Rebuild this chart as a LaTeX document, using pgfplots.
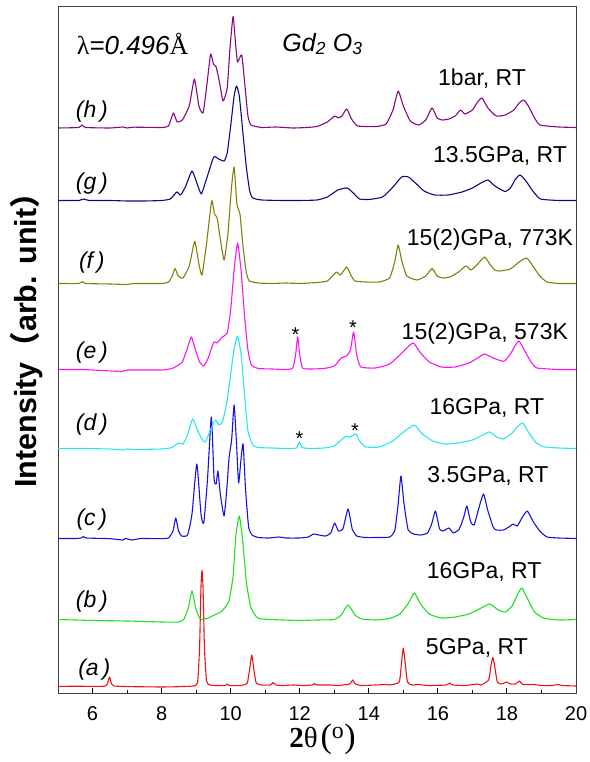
\documentclass[border=0pt]{standalone}
\usepackage{pgfplots}
\usepackage{pgfplotstable}
\pgfplotsset{compat=1.18}
\usepackage{fontspec}
\setmainfont{Liberation Sans}
\newfontfamily\serifb{Liberation Serif}
\newfontfamily\cjk{Noto Sans CJK SC}
\definecolor{cA}{RGB}{235,20,20}
\definecolor{cB}{RGB}{30,225,30}
\definecolor{cC}{RGB}{20,20,220}
\definecolor{cD}{RGB}{40,230,240}
\definecolor{cE}{RGB}{250,20,240}
\definecolor{cF}{RGB}{128,128,10}
\definecolor{cG}{RGB}{10,10,130}
\definecolor{cH}{RGB}{130,10,130}

\pgfplotstableread[row sep=\\]{x y\\
5.0 0.5\\ 5.5 0.8\\ 6.0 0.6\\ 6.35 0.8\\ 6.43 3\\ 6.49 10\\ 6.55 3\\ 6.62 1\\ 7.0 0.4\\ 7.5 0.2\\ 8.0 0\\ 8.5 0.3\\ 8.9 1\\ 9.04 4\\ 9.10 40\\ 9.14 100\\ 9.17 116.5\\ 9.20 100\\ 9.24 40\\ 9.30 6\\ 9.4 2\\ 9.6 1.5\\ 9.85 1.5\\ 9.9 3\\ 9.95 1.5\\ 10.3 1.5\\ 10.48 4\\ 10.55 18\\ 10.61 32\\ 10.67 18\\ 10.74 4\\ 10.9 2\\ 11.15 2\\ 11.23 4.5\\ 11.31 2\\ 11.5 1.5\\ 11.82 2\\ 12.1 1.5\\ 12.36 2\\ 12.43 3.5\\ 12.5 2\\ 12.9 2\\ 13.1 1.5\\ 13.45 3\\ 13.53 7\\ 13.61 3\\ 13.8 1.5\\ 14.2 2\\ 14.5 2.5\\ 14.6 2\\ 14.88 5\\ 14.95 25\\ 15.0 39\\ 15.05 25\\ 15.12 5\\ 15.25 2\\ 15.44 2.5\\ 15.7 1.5\\ 16.25 2\\ 16.34 4\\ 16.43 2\\ 16.8 1.5\\ 17.15 3\\ 17.25 2\\ 17.47 7\\ 17.54 22\\ 17.59 29.5\\ 17.64 22\\ 17.72 5\\ 17.85 3\\ 17.99 5\\ 18.1 3\\ 18.25 3\\ 18.36 6\\ 18.46 2.5\\ 18.77 2.5\\ 19.0 1.5\\ 19.3 1.5\\ 19.48 2.5\\ 19.6 1.5\\ 20 1\\
}\tA

\pgfplotstableread[row sep=\\]{x y\\
5.0 1.5\\ 6.0 0.5\\ 7.0 0\\ 8.0 -1\\ 8.5 -1\\ 8.65 2\\ 8.78 14\\ 8.88 30\\ 8.98 14\\ 9.08 4\\ 9.17 1.5\\ 9.35 3\\ 9.56 6.5\\ 9.75 10\\ 9.95 20\\ 10.07 45\\ 10.15 85\\ 10.25 105\\ 10.35 80\\ 10.45 40\\ 10.58 14\\ 10.75 4\\ 10.9 2\\ 11.5 1\\ 12.0 0.5\\ 12.5 1\\ 13.0 1.5\\ 13.2 6\\ 13.4 16\\ 13.6 6\\ 13.8 2\\ 14.2 1\\ 14.6 2.5\\ 14.9 7\\ 15.15 18\\ 15.32 28\\ 15.5 17\\ 15.75 7\\ 16.1 3\\ 16.5 4\\ 16.9 7\\ 17.2 12\\ 17.5 17\\ 17.75 11\\ 17.95 9\\ 18.15 15\\ 18.3 26\\ 18.43 33\\ 18.6 22\\ 18.8 9\\ 19.06 3\\ 19.5 1\\ 20 1.5\\
}\tB

\pgfplotstableread[row sep=\\]{x y\\
5.0 0.5\\ 5.5 0.5\\ 5.66 1\\ 5.74 2.5\\ 5.82 1\\ 6.5 0.3\\ 6.88 -1\\ 6.95 0.5\\ 7.15 -1\\ 7.4 0.5\\ 8.0 0.3\\ 8.2 1\\ 8.33 8\\ 8.41 21\\ 8.49 8\\ 8.58 3\\ 8.75 4\\ 8.88 25\\ 9.02 75\\ 9.14 25\\ 9.22 16\\ 9.33 60\\ 9.44 122\\ 9.52 60\\ 9.58 55\\ 9.63 68\\ 9.70 45\\ 9.81 23\\ 9.90 55\\ 9.95 80\\ 10.03 100\\ 10.1 134\\ 10.17 95\\ 10.23 56\\ 10.30 80\\ 10.36 95\\ 10.43 50\\ 10.52 12\\ 10.62 4\\ 10.8 1.5\\ 11.1 1\\ 11.4 2\\ 11.6 1\\ 12.0 1\\ 12.25 2\\ 12.4 5\\ 12.55 4\\ 12.75 3\\ 12.9 6\\ 13.01 16\\ 13.12 8\\ 13.25 10\\ 13.4 30\\ 13.52 10\\ 13.65 3\\ 13.9 1.5\\ 14.3 1.5\\ 14.6 2\\ 14.75 8\\ 14.85 35\\ 14.93 63\\ 15.02 35\\ 15.14 9\\ 15.3 5\\ 15.5 4\\ 15.7 6\\ 15.82 15\\ 15.93 28\\ 16.05 10\\ 16.15 8\\ 16.32 11\\ 16.45 6\\ 16.62 10\\ 16.75 22\\ 16.84 33\\ 16.95 17\\ 17.05 14\\ 17.18 30\\ 17.32 45\\ 17.45 28\\ 17.6 12\\ 17.69 9\\ 17.9 9\\ 18.1 13\\ 18.18 15\\ 18.3 13\\ 18.45 22\\ 18.59 28\\ 18.75 18\\ 18.95 8\\ 19.16 2\\ 19.5 1\\ 20 0.5\\
}\tC

\pgfplotstableread[row sep=\\]{x y\\
5.0 0.5\\ 5.7 0.5\\ 6.5 0\\ 6.88 -1\\ 7.0 0\\ 7.2 -0.5\\ 8.0 0\\ 8.3 1.5\\ 8.49 6\\ 8.62 5\\ 8.75 14\\ 8.9 30\\ 9.05 18\\ 9.18 9\\ 9.27 7\\ 9.40 18\\ 9.56 29\\ 9.66 24\\ 9.76 27\\ 9.88 45\\ 10.0 75\\ 10.1 100\\ 10.2 113\\ 10.3 95\\ 10.4 55\\ 10.5 18\\ 10.64 4\\ 10.8 1.5\\ 11.2 1\\ 11.6 0.5\\ 11.9 1\\ 11.99 7\\ 12.07 1.5\\ 12.3 0.5\\ 12.7 1\\ 13.0 3\\ 13.2 9\\ 13.33 12.5\\ 13.45 12\\ 13.63 15\\ 13.75 7\\ 13.92 2\\ 14.3 2\\ 14.7 8\\ 15.0 17\\ 15.32 24\\ 15.55 15\\ 15.85 8\\ 16.2 5\\ 16.6 6\\ 17.0 9\\ 17.3 14\\ 17.5 17\\ 17.7 12\\ 17.9 10\\ 18.15 16\\ 18.3 22\\ 18.46 26\\ 18.62 17\\ 18.85 6\\ 19.1 2\\ 19.5 1\\ 20 0.5\\
}\tD

\pgfplotstableread[row sep=\\]{x y\\
5.0 0.5\\ 5.7 0.5\\ 6.0 0\\ 6.85 -1.5\\ 7.0 0\\ 8.0 0\\ 8.3 1.5\\ 8.44 4\\ 8.6 8\\ 8.75 22\\ 8.86 33\\ 8.98 20\\ 9.1 8\\ 9.22 4\\ 9.35 12\\ 9.51 28\\ 9.6 27\\ 9.76 33\\ 9.9 37\\ 10.0 60\\ 10.1 100\\ 10.2 127\\ 10.3 100\\ 10.4 55\\ 10.5 20\\ 10.6 5\\ 10.8 1.5\\ 11.2 1\\ 11.6 0.5\\ 11.8 2\\ 11.88 15\\ 11.94 33\\ 12.0 15\\ 12.08 2\\ 12.3 1\\ 12.7 1.5\\ 13.0 4\\ 13.2 12\\ 13.35 14\\ 13.47 20\\ 13.56 38\\ 13.65 15\\ 13.77 3\\ 14.2 2\\ 14.6 6\\ 14.9 15\\ 15.1 22\\ 15.29 27\\ 15.5 17\\ 15.75 8\\ 16.1 3\\ 16.5 3\\ 16.9 7\\ 17.2 13\\ 17.35 16\\ 17.6 12\\ 17.85 9\\ 17.94 9\\ 18.1 16\\ 18.25 25\\ 18.35 29\\ 18.5 20\\ 18.7 8\\ 18.87 2\\ 19.5 0.5\\ 20 0.5\\
}\tE

\pgfplotstableread[row sep=\\]{x y\\
5.0 0.5\\ 5.6 0.5\\ 5.7 2.5\\ 5.8 0.5\\ 6.5 0\\ 7.0 -0.5\\ 7.2 0.5\\ 8.0 0.5\\ 8.2 2\\ 8.31 8\\ 8.39 15.5\\ 8.48 8\\ 8.62 6\\ 8.8 18\\ 8.96 42.6\\ 9.08 20\\ 9.17 9\\ 9.3 40\\ 9.45 83\\ 9.53 70\\ 9.61 66\\ 9.7 45\\ 9.81 24\\ 9.92 50\\ 10.02 95\\ 10.1 117\\ 10.18 80\\ 10.27 70\\ 10.35 40\\ 10.45 12\\ 10.54 3\\ 10.8 1\\ 11.2 0.5\\ 11.6 1\\ 12.0 0.5\\ 12.5 1.5\\ 12.8 3\\ 13.0 10\\ 13.07 12\\ 13.18 9\\ 13.36 17\\ 13.48 9\\ 13.6 3\\ 13.9 2\\ 14.3 2\\ 14.6 6\\ 14.75 22\\ 14.85 39\\ 14.95 24\\ 15.1 8\\ 15.4 4\\ 15.65 8\\ 15.83 15.5\\ 15.98 8\\ 16.13 6\\ 16.35 7\\ 16.6 12\\ 16.81 18\\ 16.95 14\\ 17.1 18\\ 17.35 27\\ 17.5 20\\ 17.65 14\\ 17.79 13\\ 18.1 15\\ 18.35 22\\ 18.57 26\\ 18.75 18\\ 18.95 8\\ 19.16 2\\ 19.5 0.5\\ 20 0.5\\
}\tF

\pgfplotstableread[row sep=\\]{x y\\
5.0 0.5\\ 5.6 0.5\\ 5.74 2\\ 5.9 0.5\\ 6.5 0.5\\ 7.0 0\\ 7.5 0\\ 8.0 0.5\\ 8.25 2\\ 8.44 9\\ 8.55 6\\ 8.7 15\\ 8.88 30\\ 9.02 18\\ 9.15 7\\ 9.3 22\\ 9.51 44\\ 9.65 42\\ 9.81 40\\ 9.9 48\\ 10.0 75\\ 10.1 105\\ 10.17 115\\ 10.25 105\\ 10.35 70\\ 10.45 35\\ 10.55 10\\ 10.64 3\\ 10.9 1\\ 11.5 0.5\\ 12.0 0.5\\ 12.5 1\\ 12.8 4\\ 13.1 11\\ 13.2 12\\ 13.38 13\\ 13.55 8\\ 13.73 2\\ 14.0 1.5\\ 14.4 4\\ 14.7 14\\ 14.95 24\\ 15.15 24\\ 15.35 18\\ 15.6 10\\ 15.9 6\\ 16.3 6\\ 16.7 9\\ 17.0 13\\ 17.25 18\\ 17.45 21\\ 17.65 15\\ 17.94 9.5\\ 18.1 13\\ 18.25 22\\ 18.38 26\\ 18.55 20\\ 18.75 10\\ 18.97 2\\ 19.5 0.5\\ 20 0.5\\
}\tG

\pgfplotstableread[row sep=\\]{x y\\
5.0 0\\ 5.6 0.5\\ 5.69 3\\ 5.8 0.5\\ 6.5 0\\ 6.88 1\\ 7.0 0\\ 7.2 0.8\\ 8.0 0.5\\ 8.2 2\\ 8.34 15\\ 8.45 6\\ 8.6 8\\ 8.8 22\\ 8.95 49\\ 9.08 22\\ 9.2 15\\ 9.3 40\\ 9.42 74\\ 9.5 64\\ 9.58 61\\ 9.68 45\\ 9.78 27\\ 9.9 40\\ 9.98 80\\ 10.07 111.5\\ 10.14 85\\ 10.2 66\\ 10.32 73\\ 10.42 40\\ 10.5 12\\ 10.59 3\\ 10.9 0.5\\ 11.3 1\\ 11.8 0\\ 12.2 0.5\\ 12.5 1.5\\ 12.8 6\\ 13.01 12\\ 13.12 10\\ 13.22 12\\ 13.36 19\\ 13.5 9\\ 13.68 2\\ 14.2 1.5\\ 14.5 4\\ 14.7 18\\ 14.85 37\\ 15.0 22\\ 15.2 7\\ 15.44 3\\ 15.65 8\\ 15.83 20\\ 15.98 10\\ 16.13 8\\ 16.32 9\\ 16.5 12\\ 16.66 18\\ 16.78 14\\ 17.0 18\\ 17.15 26\\ 17.28 30\\ 17.45 20\\ 17.69 12\\ 17.95 13\\ 18.2 18\\ 18.35 25\\ 18.49 28\\ 18.62 22\\ 18.8 10\\ 18.96 3\\ 19.5 1\\ 20 0.5\\
}\tH

\begin{document}
\begin{tikzpicture}
\useasboundingbox (0,0) rectangle (589pt,762pt);
\begin{axis}[
  at={(58pt,69pt)}, anchor=south west,
  width=518pt, height=687pt, scale only axis,
  xmin=5, xmax=20, ymin=0, ymax=687,
  ytick=\empty,
  xtick={6,8,...,20},
  minor x tick num=1,
  xtick pos=bottom,
  tick align=inside,
  major tick length=5pt, minor tick length=3pt,
  tick style={black, line width=0.9pt},
  axis line style={black!75, line width=0.9pt},
  /pgf/number format/assume math mode=true,
  xticklabel style={font=\fontsize{20}{20}\selectfont, yshift=-10pt},
  clip=false,
  every axis plot/.append style={line width=1.1pt, line join=round, no marks, smooth, tension=0.3},
]
\addplot[cA] table[x=x, y expr=\thisrow{y}+6] {\tA};
\addplot[cB] table[x=x, y expr=\thisrow{y}+72] {\tB};
\addplot[cC] table[x=x, y expr=\thisrow{y}+154] {\tC};
\addplot[cD] table[x=x, y expr=\thisrow{y}+244] {\tD};
\addplot[cE] table[x=x, y expr=\thisrow{y}+323] {\tE};
\addplot[cF] table[x=x, y expr=\thisrow{y}+409] {\tF};
\addplot[cG] table[x=x, y expr=\thisrow{y}+492] {\tG};
\addplot[cH] table[x=x, y expr=\thisrow{y}+565] {\tH};

% left labels
\begin{scope}[every node/.style={font=\fontsize{23}{23}\selectfont\itshape}]
\node at (axis cs:5.98,581.5) {(h\,)};
\node at (axis cs:5.98,509) {(g\,)};
\node at (axis cs:5.98,430) {(f\,)};
\node at (axis cs:5.98,340) {(e\,)};
\node at (axis cs:5.98,268) {(d\,)};
\node at (axis cs:5.98,173) {(c\,)};
\node at (axis cs:5.98,91) {(b\,)};
\node at (axis cs:6.05,23) {(a\,)};
\end{scope}
% right labels
\begin{scope}[every node/.style={font=\fontsize{23}{23}\selectfont}]
\node at (axis cs:17.28,614) {1bar, RT};
\node at (axis cs:17.80,537) {13.5GPa, RT};
\node at (axis cs:17.51,453) {15(2)GPa, 773K};
\node at (axis cs:17.36,359) {15(2)GPa, 573K};
\node at (axis cs:17.42,285) {16GPa, RT};
\node at (axis cs:17.45,217) {3.5GPa, RT};
\node at (axis cs:17.34,121) {16GPa, RT};
\node at (axis cs:17.13,45) {5GPa, RT};
\end{scope}
% asterisks
\begin{scope}[every node/.style={font=\fontsize{20}{20}\selectfont}]
\node at (axis cs:11.88,358) {*};
\node at (axis cs:13.54,365) {*};
\node at (axis cs:11.99,254) {*};
\node at (axis cs:13.60,262) {*};
\end{scope}
% header texts
\node[font=\fontsize{26}{26}\selectfont] at (axis cs:7.16,649) {{\serifb λ}\textit{=0.496}{\serifb\AA}};
\node[font=\fontsize{25}{25}\selectfont\itshape] at (axis cs:12.66,649) {Gd\textsubscript{2} O\textsubscript{3}};
% axis titles
\node[anchor=base, inner sep=0pt] at (axis cs:12.66,-55) {{\serifb\fontsize{29}{29}\selectfont\bfseries 2}{\serifb\fontsize{29}{29}\selectfont θ} {\serifb\fontsize{34}{34}\selectfont (\textsuperscript{o})}};
\node[rotate=90, font=\fontsize{30.5}{30.5}\selectfont\bfseries] at (axis cs:4.10,360) {Intensity{\cjk（}arb. unit{\cjk）}};
\end{axis}
\end{tikzpicture}
\end{document}
